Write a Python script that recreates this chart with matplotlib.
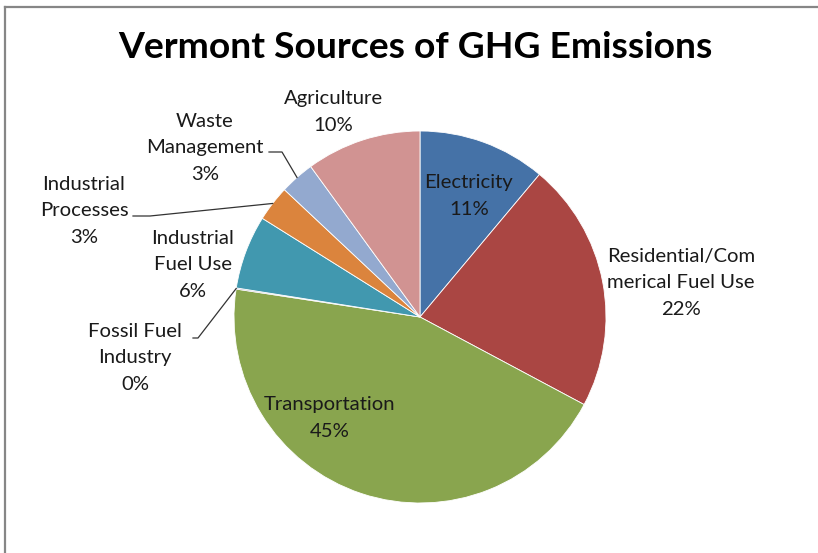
import numpy as np
import matplotlib.pyplot as plt
from matplotlib.lines import Line2D

plt.rcParams['font.family'] = ['Lato', 'DejaVu Sans']

W, H = 818, 553

names = ['Electricity', 'Residential/Com\nmerical Fuel Use', 'Transportation',
         'Fossil Fuel\nIndustry', 'Industrial\nFuel Use', 'Industrial\nProcesses',
         'Waste\nManagement', 'Agriculture']
values = [11.1, 21.7, 44.6, 0.1, 6.4, 3.1, 3.0, 10.0]
colors = ['#4572A7', '#AA4643', '#89A54E', '#71588F', '#4198AF',
          '#DB843D', '#93A9CF', '#D19392']

# label block centres (image pixels) and leader-line knee points
label_pos = [(469, 196), (681, 283), (330, 418), (135, 358), (193, 265),
             (84, 211), (205, 148), (333, 112)]
leaders = {3: [(193, 338), (198, 338)],
           5: [(133, 216), (150, 216)],
           6: [(269, 152), (282, 152)]}

cx, cy, R = 420, 317, 186

fig = plt.figure(figsize=(W / 100, H / 100), dpi=100)
ax = fig.add_axes([0, 0, 1, 1])

wedges, _ = ax.pie(values, colors=colors, startangle=90, counterclock=False,
                   center=(cx, H - cy), radius=R,
                   wedgeprops=dict(edgecolor='white', linewidth=0.6))
ax.set_xlim(0, W)
ax.set_ylim(0, H)
ax.set_aspect('equal')
ax.axis('off')

total = sum(values)
cum = 0
for i, v in enumerate(values):
    mid = (cum + v / 2) / total * 2 * np.pi
    cum += v
    pct = round(v / total * 100)
    lx, ly = label_pos[i]
    ax.text(lx, H - ly, f'{names[i]}\n{pct}%', ha='center', va='center',
            fontsize=14.6, color='#1a1a1a', linespacing=1.65)
    if i in leaders:
        px = cx + R * np.sin(mid)
        py = cy - R * np.cos(mid)
        pts = leaders[i] + [(px, py)]
        ax.plot([p[0] for p in pts], [H - p[1] for p in pts],
                color='#333333', lw=0.9)

ax.text(415, H - 48, 'Vermont Sources of GHG Emissions', ha='center',
        va='center', fontsize=26.8, fontweight='bold', color='black')

# chart frame (left and top edges visible)
fig.add_artist(Line2D([5 / W, 5 / W], [0, 1 - 7 / H], transform=fig.transFigure,
                      color='#868686', lw=1.6))
fig.add_artist(Line2D([5 / W, 1], [1 - 7 / H, 1 - 7 / H], transform=fig.transFigure,
                      color='#868686', lw=1.6))

fig.savefig('out.png', dpi=100)
